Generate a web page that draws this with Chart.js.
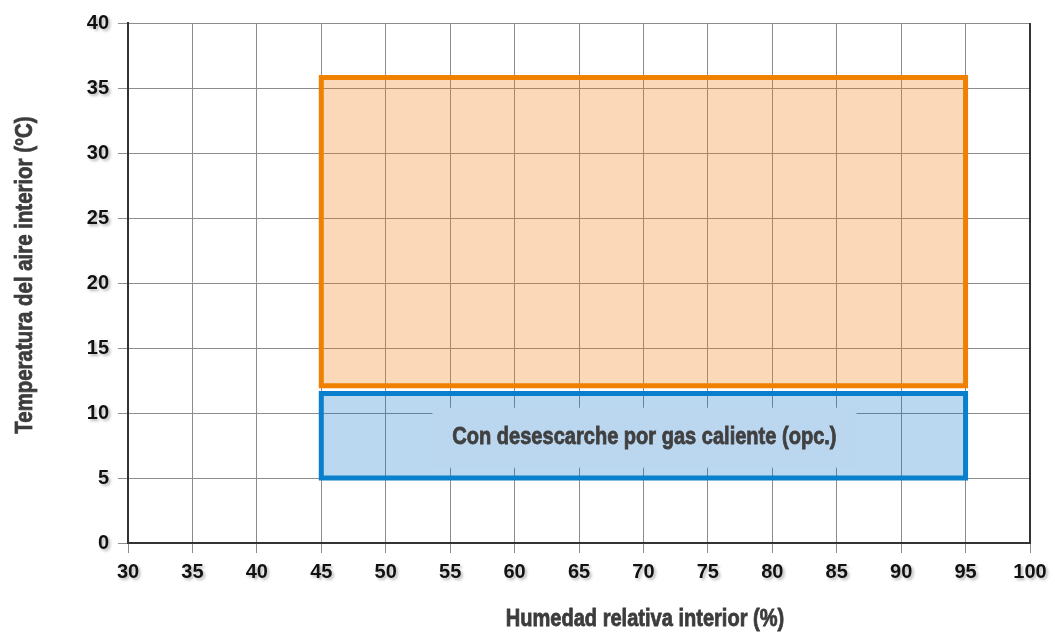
<!DOCTYPE html>
<html>
<head>
<meta charset="utf-8">
<script src="https://cdn.jsdelivr.net/npm/chart.js@4"></script>
<style>
  html, body { margin: 0; padding: 0; background: #fff; }
  #wrap { width: 1055px; height: 632px; }
</style>
</head>
<body>
<div id="wrap"><canvas id="myChart" width="1055" height="632"></canvas></div>
<script>
// rangos de funcionamiento
var humedad = [45, 95];
var tempCalor = [12.1, 35.8];
var tempDesescarche = [5, 11.5];
var etiquetaDesescarche = "Con desescarche por gas caliente (opc.)";
var tituloX = "Humedad relativa interior (%)";
var tituloY = "Temperatura del aire interior (°C)";
var rangoX = [30, 100];
var rangoY = [0, 40];
var paso = 5;

// rectangulo cerrado a partir de los rangos
var rect = (hx, ty) => [
  { x: hx[0], y: ty[0] },
  { x: hx[1], y: ty[0] },
  { x: hx[1], y: ty[1] },
  { x: hx[0], y: ty[1] },
  { x: hx[0], y: ty[0] },
  { x: hx[1], y: ty[0] },
];

var fuente = "'Liberation Sans', Arial, sans-serif";

// texto "condensado": fuente normal estrechada horizontalmente
var textoEstrecho = (ctx, txt, x, y, size, factor, rot) => {
  ctx.save();
  ctx.translate(x, y);
  if (rot) ctx.rotate(rot);
  ctx.scale(factor, 1);
  ctx.font = "bold " + size + "px " + fuente;
  ctx.textAlign = "center";
  ctx.textBaseline = "middle";
  ctx.strokeStyle = ctx.fillStyle;
  ctx.lineWidth = 0.8;
  ctx.fillText(txt, 0, 0);
  ctx.strokeText(txt, 0, 0);
  ctx.restore();
};

// sombra suave en las etiquetas de los ejes
var origDrawLabels = Chart.LinearScale.prototype.drawLabels;
Chart.LinearScale.prototype.drawLabels = function (area) {
  var ctx = this.ctx;
  ctx.save();
  ctx.shadowColor = "rgba(0,0,0,0.28)";
  ctx.shadowOffsetX = 2;
  ctx.shadowOffsetY = 2;
  ctx.shadowBlur = 3;
  origDrawLabels.call(this, area);
  ctx.restore();
};

var etiquetaPlugin = {
  id: "etiqueta",
  afterDatasetsDraw(chart) {
    var ctx = chart.ctx;
    var xs = chart.scales.x, ys = chart.scales.y;
    var cx = xs.getPixelForValue((humedad[0] + humedad[1]) / 2) + 1;
    var cy = ys.getPixelForValue((tempDesescarche[0] + tempDesescarche[1]) / 2) + 2;
    ctx.save();
    ctx.fillStyle = "rgb(187,215,240)";
    ctx.fillRect(cx - 212, cy - 30, 424, 60);
    ctx.fillStyle = "#404040";
    textoEstrecho(ctx, etiquetaDesescarche, cx, cy, 24, 0.835);
    ctx.restore();
  },
  afterDraw(chart) {
    var ctx = chart.ctx, a = chart.chartArea;
    ctx.save();
    ctx.strokeStyle = "#333";
    ctx.lineWidth = 2;
    ctx.beginPath();
    ctx.moveTo(a.right, a.top);
    ctx.lineTo(a.right, a.bottom + 1);
    ctx.stroke();
    ctx.fillStyle = "#3c3c3c";
    textoEstrecho(ctx, tituloX, 645, 619, 24, 0.835);
    textoEstrecho(ctx, tituloY, 25, 275, 24, 0.85, -Math.PI / 2);
    ctx.restore();
  },
};

var tickFont = { family: fuente, size: 20, weight: "bold" };

var chart = new Chart(document.getElementById("myChart").getContext("2d"), {
  type: "scatter",
  data: {
    datasets: [
      {
        data: rect(humedad, tempCalor),
        showLine: true,
        fill: "shape",
        borderColor: "#f08000",
        backgroundColor: "rgba(242,130,20,0.3)",
        borderWidth: 5,
        borderJoinStyle: "miter",
        pointRadius: 0,
        tension: 0,
      },
      {
        data: rect(humedad, tempDesescarche),
        showLine: true,
        fill: "shape",
        borderColor: "#0a7fcc",
        backgroundColor: "rgba(0,110,200,0.27)",
        borderWidth: 5,
        borderJoinStyle: "miter",
        pointRadius: 0,
        tension: 0,
      },
    ],
  },
  options: {
    responsive: false,
    animation: false,
    layout: { padding: { top: 23, right: 25, left: 0, bottom: 0 } },
    plugins: { legend: { display: false }, tooltip: { enabled: false } },
    scales: {
      x: {
        type: "linear",
        min: rangoX[0],
        max: rangoX[1],
        ticks: { stepSize: paso, font: tickFont, color: "#111", padding: 7 },
        grid: { color: "#8c8c8c", lineWidth: 1, tickLength: 10 },
        border: { display: true, color: "#333", width: 2 },
        afterFit: (s) => { s.height = 89; },
      },
      y: {
        type: "linear",
        min: rangoY[0],
        max: rangoY[1],
        ticks: { stepSize: paso, font: tickFont, color: "#111", padding: 9 },
        grid: { color: "#8c8c8c", lineWidth: 1, tickLength: 10 },
        border: { display: true, color: "#333", width: 2 },
        afterFit: (s) => { s.width = 128; },
      },
    },
  },
  plugins: [etiquetaPlugin],
});
</script>
</body>
</html>
